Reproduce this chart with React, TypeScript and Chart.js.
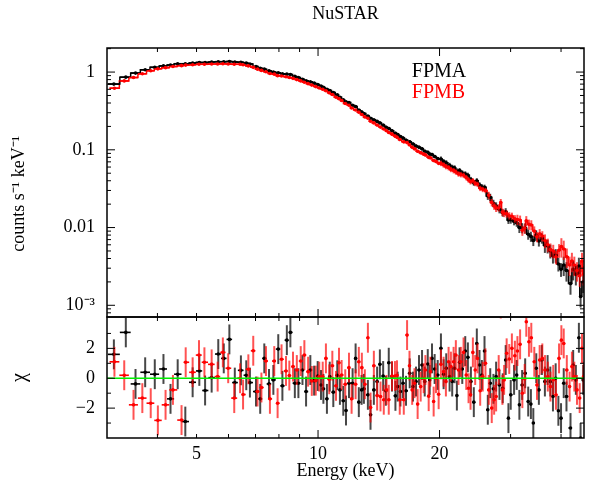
import React, { useEffect, useRef } from 'react';
import { Chart, registerables } from 'chart.js';

Chart.register(...registerables);

const FONT = "'Liberation Serif', 'Times New Roman', Times, serif";

// ---------------- data ----------------
const seriesNames = ['FPMA', 'FPMB'];
const seriesColors = ['#000000', '#ff0000'];
const seriesBarColors = ['rgba(0,0,0,0.72)', 'rgba(255,0,0,0.68)'];

const fpmaEnergy = [3.12, 3.34, 3.53, 3.73, 3.94, 4.14, 4.31, 4.49, 4.69, 4.89,
  5.08, 5.25, 5.45, 5.66, 5.84, 6.03, 6.22, 6.44, 6.64, 6.78,
  7.02, 7.19, 7.36, 7.56, 7.75, 7.97, 8.16, 8.37, 8.54, 8.76,
  8.94, 9.15, 9.34, 9.57, 9.78, 9.98, 10.17, 10.31, 10.52, 10.69,
  10.91, 11.16, 11.33, 11.55, 11.73, 11.93, 12.18, 12.39, 12.62, 12.82,
  12.99, 13.29, 13.49, 13.75, 14.01, 14.23, 14.50, 14.72, 14.97, 15.25,
  15.55, 15.75, 16.00, 16.24, 16.52, 16.87, 17.19, 17.49, 17.79, 18.10,
  18.38, 18.70, 18.91, 19.16, 19.45, 19.79, 20.16, 20.47, 20.78, 21.18,
  21.50, 21.79, 22.08, 22.42, 22.77, 23.16, 23.51, 23.92, 24.32, 24.74,
  25.12, 25.46, 25.85, 26.34, 26.71, 27.20, 27.62, 28.15, 28.68, 29.17,
  29.63, 30.02, 30.60, 31.06, 31.54, 32.04, 32.60, 33.17, 33.68, 34.15,
  34.73, 35.25, 35.86, 36.48, 37.05, 37.63, 38.20, 38.79, 39.40, 40.00,
  40.62, 41.26, 42.22, 42.87, 43.53, 44.29, 44.72, 45.38];

const fpmaFlux = [0.70, 0.86, 0.97, 1.07, 1.15, 1.20, 1.23, 1.28, 1.28, 1.31,
  1.33, 1.33, 1.35, 1.36, 1.36, 1.37, 1.35, 1.34, 1.31, 1.27,
  1.18, 1.12, 1.09, 1.04, 1.00, 0.98, 0.95, 0.94, 0.93, 0.88,
  0.85, 0.81, 0.775, 0.75, 0.72, 0.69, 0.66, 0.635, 0.60, 0.58,
  0.545, 0.51, 0.475, 0.44, 0.415, 0.405, 0.375, 0.36, 0.325, 0.308,
  0.293, 0.272, 0.255, 0.243, 0.232, 0.222, 0.208, 0.196, 0.188, 0.176,
  0.163, 0.157, 0.148, 0.142, 0.133, 0.127, 0.119, 0.112, 0.108, 0.103,
  0.096, 0.093, 0.088, 0.087, 0.082, 0.077, 0.076, 0.0705, 0.068, 0.063,
  0.0595, 0.0585, 0.0535, 0.054, 0.0505, 0.049, 0.047, 0.0415, 0.0375, 0.040,
  0.0355, 0.0335, 0.033, 0.0255, 0.0245, 0.0205, 0.019, 0.0171, 0.0155, 0.0160,
  0.0125, 0.0126, 0.0120, 0.0115, 0.0100, 0.0099, 0.0098, 0.0082, 0.0077, 0.0068,
  0.0080, 0.0067, 0.0073, 0.0059, 0.0058, 0.0050, 0.0043, 0.0044, 0.0034, 0.0029,
  0.0033, 0.0028, 0.0019, 0.0029, 0.0025, 0.0032, 0.0013, 0.0020];

const fpmaErrPct = [2, 2, 2, 2, 2, 2, 2, 2, 2, 2,
  2, 2, 2, 2, 2, 2, 2, 2, 2, 2,
  2, 2, 2, 2, 2, 2, 2, 2, 2, 2,
  2, 2, 2, 2, 2, 2, 3, 3, 3, 3,
  3, 3, 3, 3, 3, 3, 3, 3, 3, 3,
  3, 3, 3, 3, 3, 3, 3, 3, 5, 5,
  5, 5, 5, 5, 5, 5, 5, 5, 5, 5,
  5, 5, 5, 5, 5, 5, 8, 8, 8, 8,
  8, 8, 8, 8, 8, 8, 8, 8, 8, 8,
  8, 8, 8, 11, 11, 11, 11, 11, 11, 11,
  11, 11, 11, 11, 15, 15, 15, 15, 15, 15,
  15, 15, 15, 20, 20, 20, 20, 20, 20, 20,
  28, 28, 28, 28, 28, 28, 28, 28];

const fpmaChi = [1.6, 3.07, -0.38, 0.4, 0.27, 0.62, -1.38, 0.27, -2.9, -0.27,
  0.49, -0.82, 0.04, 1.62, 1.33, 2.6, -0.29, 0.53, 0.2, -0.29,
  -0.89, -1.38, 1.33, -0.38, -0.11, 1.95, -0.51, 2.55, 3.07, -0.33,
  -0.33, 0.55, -0.89, 0.55, -0.16, 0.15, -0.45, -0.71, -1.38, 0.11,
  -0.93, 0.2, -0.78, -1.51, -2.16, -0.33, -0.33, 1.33, -1.6, -0.78,
  -0.71, -1.11, -2.45, -0.78, -0.22, 0.93, 0.15, -0.84, 1.04, 0.11,
  -1.18, -0.56, -0.89, -0.33, -0.84, 0.33, -0.56, -0.22, 0.55, 0.89,
  -0.22, 0.95, -0.11, 1.33, 0.62, 0.22, 2.0, 0.27, 0.67, 0.11,
  -0.22, 0.67, -1.16, 1.07, 0.62, 1.82, 1.4, -0.22, -1.6, 2.33,
  0.89, 0.22, 1.82, -2.11, -0.33, -0.71, 0.11, -0.45, -0.67, 1.22,
  -2.67, -1.11, -0.11, 0.22, -1.78, -0.45, 0.33, -1.56, -1.73, -3.0,
  0.67, -0.78, 1.22, -0.22, 0.55, -0.22, -1.22, 0, -2.18, -2.67,
  -0.33, -1.22, -3.33, 0.89, -0.11, 2.71, -4.0, -0.11];

const fpmbEnergy = [3.13, 3.31, 3.49, 3.67, 3.85, 4.01, 4.19, 4.37, 4.59, 4.70,
  4.89, 5.07, 5.23, 5.45, 5.64, 5.81, 5.99, 6.20, 6.41, 6.52,
  6.72, 6.91, 7.08, 7.24, 7.43, 7.60, 7.79, 7.94, 8.12, 8.33,
  8.49, 8.67, 8.86, 9.06, 9.25, 9.45, 9.65, 9.87, 10.07, 10.27,
  10.46, 10.66, 10.85, 11.08, 11.27, 11.44, 11.68, 11.93, 12.11, 12.39,
  12.62, 12.84, 13.06, 13.29, 13.49, 13.75, 14.01, 14.28, 14.55, 14.78,
  14.97, 15.25, 15.51, 15.69, 15.94, 16.31, 16.62, 16.85, 17.11, 17.34,
  17.65, 17.96, 18.27, 18.45, 18.80, 18.98, 19.34, 19.60, 19.90, 20.16,
  20.47, 20.74, 21.06, 21.34, 21.67, 21.95, 22.29, 22.59, 22.94, 23.29,
  23.60, 23.87, 24.19, 24.51, 24.84, 25.22, 25.59, 25.99, 26.49, 26.94,
  27.31, 27.62, 28.03, 28.36, 28.63, 28.91, 29.33, 29.77, 30.22, 30.74,
  31.19, 31.67, 32.08, 32.51, 32.81, 33.31, 33.76, 34.34, 34.87, 35.41,
  35.95, 36.51, 37.09, 37.66, 38.26, 38.86, 39.55, 40.08, 40.62, 41.34,
  42.00, 42.56, 43.15, 43.81, 44.49, 45.08, 45.50];

const fpmbFlux = [0.62, 0.77, 0.85, 0.95, 1.04, 1.10, 1.14, 1.18, 1.21, 1.23,
  1.24, 1.26, 1.26, 1.27, 1.27, 1.28, 1.27, 1.26, 1.26, 1.24,
  1.20, 1.15, 1.09, 1.05, 1.01, 0.96, 0.94, 0.90, 0.89, 0.87,
  0.85, 0.83, 0.80, 0.77, 0.74, 0.71, 0.68, 0.65, 0.625, 0.60,
  0.575, 0.54, 0.515, 0.475, 0.455, 0.43, 0.395, 0.375, 0.345, 0.325,
  0.305, 0.285, 0.265, 0.255, 0.233, 0.222, 0.208, 0.196, 0.185, 0.176,
  0.167, 0.159, 0.150, 0.145, 0.136, 0.127, 0.124, 0.116, 0.108, 0.103,
  0.096, 0.092, 0.088, 0.086, 0.080, 0.079, 0.073, 0.071, 0.067, 0.067,
  0.064, 0.061, 0.059, 0.056, 0.054, 0.052, 0.049, 0.048, 0.047, 0.044,
  0.041, 0.039, 0.040, 0.037, 0.036, 0.032, 0.031, 0.030, 0.026, 0.021,
  0.019, 0.0178, 0.0180, 0.0210, 0.0158, 0.0153, 0.0150, 0.0142, 0.0140, 0.0130,
  0.0127, 0.0124, 0.0092, 0.0098, 0.0122, 0.0110, 0.0108, 0.0090, 0.0076, 0.0083,
  0.0078, 0.0068, 0.0060, 0.0052, 0.0050, 0.0042, 0.0051, 0.0057, 0.0053, 0.0042,
  0.0033, 0.0037, 0.0033, 0.0028, 0.0024, 0.0037, 0.0025];

const fpmbErrPct = [2, 2, 2, 2, 2, 2, 2, 2, 2, 2,
  2, 2, 2, 2, 2, 2, 2, 2, 2, 2,
  2, 2, 2, 2, 2, 2, 2, 2, 2, 2,
  2, 2, 2, 2, 2, 2, 2, 2, 3, 3,
  3, 3, 3, 3, 3, 3, 3, 3, 3, 3,
  3, 3, 3, 3, 3, 3, 3, 3, 3, 3,
  3, 5, 5, 5, 5, 5, 5, 5, 5, 5,
  5, 5, 5, 5, 5, 5, 5, 5, 5, 8,
  8, 8, 8, 8, 8, 8, 8, 8, 8, 8,
  8, 8, 8, 8, 8, 8, 8, 8, 11, 11,
  11, 11, 11, 11, 11, 11, 11, 11, 11, 11,
  15, 15, 15, 15, 15, 15, 15, 15, 15, 15,
  15, 20, 20, 20, 20, 20, 20, 28, 28, 28,
  28, 28, 28, 28, 28, 28, 28];

const fpmbChi = [1.1, 0.2, -1.78, -1.33, -1.67, -2.82, -1.78, -0.78, -2.8, 1.07,
  0.4, 1.55, 1.07, 0.93, 0.11, 1.73, 0.67, -1.33, 0, -1.09,
  0.6, 1.84, -0.89, -0.62, 1.15, -1.38, 1.15, -1.67, 1.27, 0.49,
  0.18, 0.78, 0.55, 1.15, 1.55, 0.44, -0.18, -0.16, 0.11, 0.11,
  1.33, -0.07, 0.84, -0.51, 1.04, 0.22, -0.4, 0.71, -1.38, -0.4,
  1.1, 0.71, -0.4, 2.71, -1.96, 0.84, -1.16, -1.22, -1.44, -0.78,
  -1.44, 0.15, 0.15, 0.2, -1.44, -1.44, 2.89, 0.84, -0.78, -0.33,
  -1.73, -0.56, 0, 0.55, -1.2, 0.44, -1.56, 0, -1.07, 0.93,
  0.44, -0.22, 1.1, 0.78, 1.1, 1.55, 0.55, 1.1, 1.73, 0.22,
  -0.67, -1.11, 1.73, 0.55, 1.33, -0.84, 0.11, 1.0, -0.78, -2.0,
  -1.44, -1.22, 0.55, 5.0, -0.78, -0.11, 1.67, 1.29, 2.0, 1.51,
  1.82, 2.27, -1.0, -0.04, 3.78, 2.44, 2.71, 1.1, -0.45, 1.22,
  1.33, 0.55, 0.11, -0.56, -0.11, -1.11, 1.33, 2.55, 2.33, 0.55,
  -0.56, 0.78, 0.11, -0.78, -1.33, 2.0, 0.11];

// axis ranges and ticks
const energyMin = 3;
const energyMax = 45.6;
const fluxMin = 7.07e-4;
const fluxMax = 2.04;
const chiMin = -4;
const chiMax = 4.1;
const xLabelValues = [5, 10, 20];
const xMajorTicks = [10, 20];
const xMinorTicks = [3, 4, 5, 6, 7, 8, 9, 30, 40];
const fluxLabelValues = [1, 0.1, 0.01, 0.001];
const fluxLabelTexts = ['1', '0.1', '0.01', '10\u207B\u00B3'];
const chiLabelValues = [2, 0, -2];
const chiLabelTexts = ['2', '0', '\u22122'];
const chiMinorTicks = [3, 1, -1, -3];

// ---------------- helpers ----------------
function binEdges(e: number[]) {
  const lo: number[] = [];
  const hi: number[] = [];
  for (let i = 0; i < e.length; i++) {
    const next = i < e.length - 1 ? Math.sqrt(e[i] * e[i + 1]) : (e[i] * e[i]) / Math.sqrt(e[i - 1] * e[i]);
    const prev = i > 0 ? Math.sqrt(e[i - 1] * e[i]) : (e[i] * e[i]) / next;
    lo.push(prev);
    hi.push(next);
  }
  return { lo, hi };
}

function buildSeries(e: number[], f: number[], pct: number[], chi: number[]) {
  const { lo, hi } = binEdges(e);
  const step = e.map((_, i) => ({ x: lo[i], y: f[i] }));
  step.push({ x: hi[hi.length - 1], y: f[f.length - 1] });
  const flux = e.map((x, i) => ({ x, y: f[i], xlo: lo[i], xhi: hi[i], ylo: f[i] * (1 - pct[i] / 100), yhi: f[i] * (1 + pct[i] / 100) }));
  const res = e.map((x, i) => ({ x, y: chi[i], xlo: lo[i], xhi: hi[i], ylo: chi[i] - 1, yhi: chi[i] + 1 }));
  return { step, flux, res };
}

const near = (a: number, b: number) => Math.abs(a - b) <= Math.abs(b) * 1e-6 + 1e-12;

const panelPlugin = {
  id: 'panelPlugin',
  afterDatasetsDraw(chart: any) {
    const ctx = chart.ctx;
    const xs = chart.scales.x;
    const yf = chart.scales.yFlux;
    const yr = chart.scales.yRes;
    const L = xs.left, R = xs.right;

    // error crosses
    chart.data.datasets.forEach((ds: any) => {
      if (!ds.crossColor) return;
      const ys = chart.scales[ds.yAxisID];
      ctx.save();
      ctx.beginPath();
      ctx.rect(L, ys.top, R - L, ys.bottom - ys.top);
      ctx.clip();
      for (const p of ds.data) {
        const px = xs.getPixelForValue(p.x);
        const pl = xs.getPixelForValue(p.xlo);
        const ph = xs.getPixelForValue(p.xhi);
        const py = ys.getPixelForValue(p.y);
        const pyl = ys.getPixelForValue(p.ylo);
        const pyh = ys.getPixelForValue(p.yhi);
        ctx.strokeStyle = ds.barColor;
        ctx.lineWidth = 2;
        ctx.beginPath();
        ctx.moveTo(px, pyl);
        ctx.lineTo(px, pyh);
        ctx.stroke();
        ctx.strokeStyle = ds.crossColor;
        ctx.lineWidth = 1.6;
        ctx.beginPath();
        ctx.moveTo(pl, py);
        ctx.lineTo(ph, py);
        ctx.stroke();
        ctx.fillStyle = ds.crossColor;
        ctx.beginPath();
        ctx.arc(px, py, 1.8, 0, Math.PI * 2);
        ctx.fill();
      }
      ctx.restore();
    });

    // zero line
    ctx.save();
    ctx.strokeStyle = '#00ee00';
    ctx.lineWidth = 1.6;
    const y0 = yr.getPixelForValue(0);
    ctx.beginPath();
    ctx.moveTo(L, y0);
    ctx.lineTo(R, y0);
    ctx.stroke();

    // frames
    ctx.strokeStyle = '#000';
    ctx.lineWidth = 1.5;
    ctx.strokeRect(L, yf.top, R - L, yf.bottom - yf.top);
    ctx.strokeRect(L, yr.top, R - L, yr.bottom - yr.top);

    // ticks
    ctx.lineWidth = 1;
    const vtick = (xp: number, yp: number, len: number) => {
      ctx.beginPath();
      ctx.moveTo(xp, yp);
      ctx.lineTo(xp, yp + len);
      ctx.stroke();
    };
    const htick = (xp: number, yp: number, len: number) => {
      ctx.beginPath();
      ctx.moveTo(xp, yp);
      ctx.lineTo(xp + len, yp);
      ctx.stroke();
    };
    const xt = [...xMajorTicks.map((v) => [v, 8]), ...xMinorTicks.map((v) => [v, 4])];
    for (const [v, len] of xt) {
      const px = xs.getPixelForValue(v);
      if (px <= L + 0.5 || px >= R - 0.5) continue;
      vtick(px, yf.top, len);
      vtick(px, yf.bottom, -len);
      vtick(px, yr.top, len);
      vtick(px, yr.bottom, -len);
    }
    for (let d = -4; d <= 0; d++) {
      for (let m = 1; m <= 9; m++) {
        const v = m * Math.pow(10, d);
        if (v < fluxMin || v > fluxMax) continue;
        const py = yf.getPixelForValue(v);
        const len = m === 1 ? 8 : 4;
        htick(L, py, len);
        htick(R, py, -len);
      }
    }
    const ct = [...chiLabelValues.map((v) => [v, 8]), ...chiMinorTicks.map((v) => [v, 4])];
    for (const [v, len] of ct) {
      const py = yr.getPixelForValue(v);
      htick(L, py, len);
      htick(R, py, -len);
    }
    ctx.restore();
  },
  afterDraw(chart: any) {
    const ctx = chart.ctx;
    const { left, right, top } = chart.chartArea;
    ctx.save();
    ctx.textBaseline = 'middle';
    ctx.textAlign = 'center';
    ctx.fillStyle = '#000';
    ctx.font = `18px ${FONT}`;
    ctx.fillText('NuSTAR', (left + right) / 2, 14);
    ctx.textAlign = 'left';
    ctx.font = `20px ${FONT}`;
    const lx = left + 0.639 * (right - left);
    seriesNames.forEach((name, i) => {
      ctx.fillStyle = seriesColors[i];
      ctx.fillText(name, lx, top + 24 + i * 21);
    });
    ctx.restore();
  },
};

export default function App() {
  const canvasRef = useRef<HTMLCanvasElement | null>(null);

  useEffect(() => {
    if (!canvasRef.current) return;
    Chart.defaults.font.family = FONT;
    Chart.defaults.font.size = 18;
    Chart.defaults.color = '#000';

    const a = buildSeries(fpmaEnergy, fpmaFlux, fpmaErrPct, fpmaChi);
    const b = buildSeries(fpmbEnergy, fpmbFlux, fpmbErrPct, fpmbChi);

    const chart = new Chart(canvasRef.current, {
      type: 'scatter',
      data: {
        datasets: [
          { type: 'line', label: 'FPMA model', data: a.step, yAxisID: 'yFlux', borderColor: seriesColors[0], borderWidth: 1.5, pointRadius: 0, stepped: true, fill: false, order: 0 } as any,
          { type: 'line', label: 'FPMB model', data: b.step, yAxisID: 'yFlux', borderColor: seriesColors[1], borderWidth: 1.5, pointRadius: 0, stepped: true, fill: false, order: 1 } as any,
          { label: 'FPMA', data: a.flux, yAxisID: 'yFlux', pointRadius: 0, crossColor: seriesColors[0], barColor: seriesBarColors[0] } as any,
          { label: 'FPMB', data: b.flux, yAxisID: 'yFlux', pointRadius: 0, crossColor: seriesColors[1], barColor: seriesBarColors[1] } as any,
          { label: 'FPMA chi', data: a.res, yAxisID: 'yRes', pointRadius: 0, crossColor: seriesColors[0], barColor: seriesBarColors[0] } as any,
          { label: 'FPMB chi', data: b.res, yAxisID: 'yRes', pointRadius: 0, crossColor: seriesColors[1], barColor: seriesBarColors[1] } as any,
        ],
      },
      options: {
        animation: false,
        responsive: false,
        devicePixelRatio: 1,
        layout: { padding: { top: 48, right: 2, left: 0, bottom: 0 } },
        plugins: { legend: { display: false }, title: { display: false }, tooltip: { enabled: false } },
        events: [],
        scales: {
          x: {
            type: 'logarithmic',
            position: 'bottom',
            min: energyMin,
            max: energyMax,
            grid: { display: false, drawTicks: false },
            border: { display: false },
            ticks: {
              autoSkip: false,
              maxRotation: 0,
              padding: 5,
              font: { size: 18 },
              color: '#000',
              callback: (v: any) => {
                const hit = xLabelValues.find((t) => near(Number(v), t));
                return hit !== undefined ? String(hit) : '';
              },
            },
            title: { display: true, text: 'Energy (keV)', font: { size: 18 }, color: '#000', padding: { top: 0, bottom: 3 } },
            afterFit: (s: any) => { s.height = 47; },
          },
          yRes: {
            type: 'linear',
            position: 'left',
            stack: 'panels',
            stackWeight: 121,
            min: chiMin,
            max: chiMax,
            grid: { display: false, drawTicks: false },
            border: { display: false },
            ticks: {
              stepSize: 1,
              padding: 12,
              autoSkip: false,
              font: { size: 18 },
              color: '#000',
              callback: (v: any) => {
                const i = chiLabelValues.findIndex((t) => near(Number(v), t));
                return i >= 0 ? chiLabelTexts[i] : '';
              },
            },
            title: { display: true, text: '\u03C7', font: { size: 20 }, color: '#000', padding: { top: 8, bottom: 0 } },
            afterFit: (s: any) => { s.width = 107; },
          },
          yFlux: {
            type: 'logarithmic',
            position: 'left',
            stack: 'panels',
            stackWeight: 269,
            min: fluxMin,
            max: fluxMax,
            grid: { display: false, drawTicks: false },
            border: { display: false },
            ticks: {
              padding: 12,
              autoSkip: false,
              font: { size: 18 },
              color: '#000',
              callback: (v: any) => {
                const i = fluxLabelValues.findIndex((t) => near(Number(v), t));
                return i >= 0 ? fluxLabelTexts[i] : '';
              },
            },
            title: { display: true, text: 'counts s\u207B\u00B9 keV\u207B\u00B9\u00A0\u00A0\u00A0\u00A0\u00A0', font: { size: 18 }, color: '#000', padding: { top: 8, bottom: 0 } },
            afterFit: (s: any) => { s.width = 107; },
          },
        },
      } as any,
      plugins: [panelPlugin as any],
    });
    return () => chart.destroy();
  }, []);

  return (
    <div style={{ position: 'fixed', left: 0, top: 0, width: 589, height: 485, background: '#fff' }}>
      <canvas ref={canvasRef} width={589} height={485} style={{ width: 589, height: 485, display: 'block' }} />
    </div>
  );
}
